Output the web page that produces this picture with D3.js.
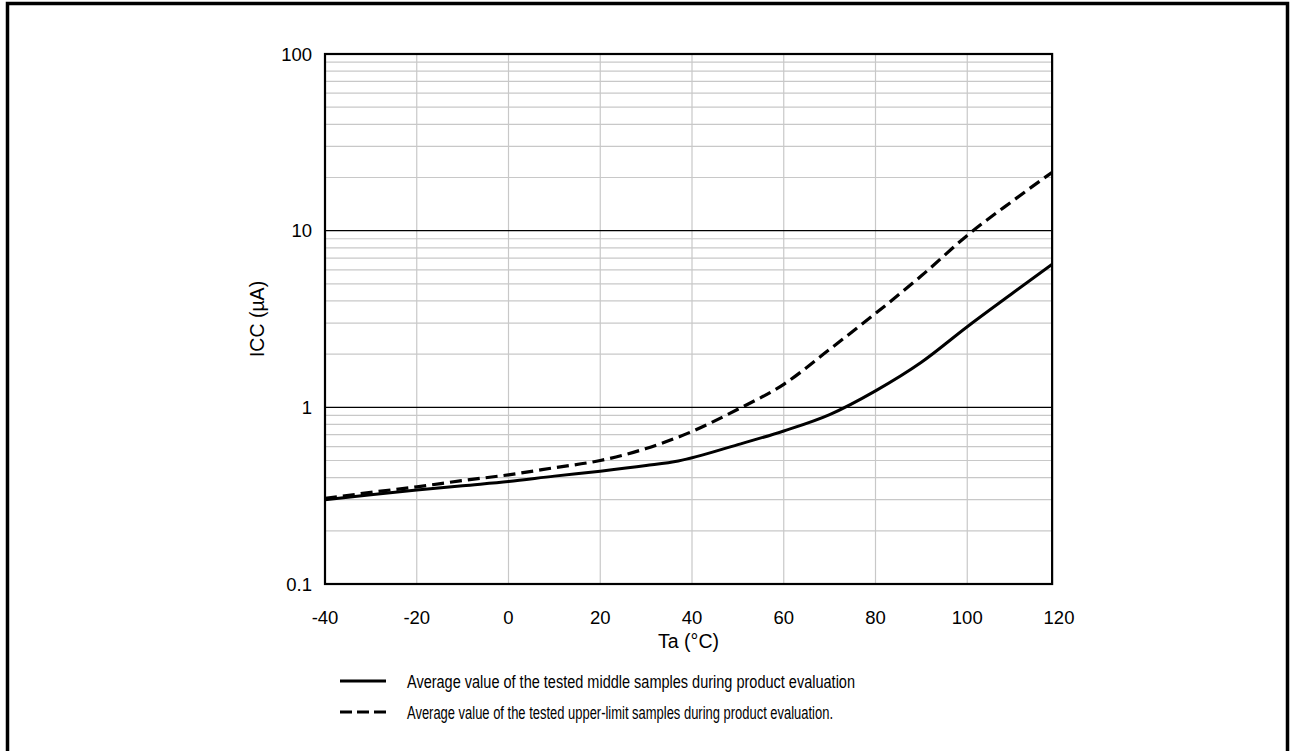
<!DOCTYPE html>
<html>
<head>
<meta charset="utf-8">
<script src="https://cdn.jsdelivr.net/npm/d3@7"></script>
<style>
  body { margin: 0; background: #fff; }
  text { font-family: "Liberation Sans", Arial, sans-serif; fill: #000; }
</style>
</head>
<body>
<script>
// temperatures (°C) and ICC values (µA)
var tempsMid = [-40, -30, -20, -10, 0, 10, 20, 30, 37, 50, 60, 70, 80, 90, 100, 110, 120];
var iccMid   = [0.30, 0.32, 0.34, 0.36, 0.38, 0.408, 0.435, 0.468, 0.497, 0.615, 0.735, 0.91, 1.24, 1.8, 2.86, 4.45, 6.9];

var tempsUpper = [-40, -30, -20, -10, 0, 10, 20, 30, 40, 50, 60, 70, 80, 90, 100, 110, 120];
var iccUpper   = [0.305, 0.33, 0.355, 0.385, 0.415, 0.455, 0.50, 0.585, 0.73, 0.975, 1.35, 2.13, 3.4, 5.55, 9.4, 14.8, 22.8];

var xTicks = [-40, -20, 0, 20, 40, 60, 80, 100, 120];
var yMajor = [0.1, 1, 10, 100];
var xEnd = 118.5; // plot frame ends just short of 120

var legendLabels = [
  "Average value of the tested middle samples during product evaluation",
  "Average value of the tested upper-limit samples during product evaluation."
];

var W = 1290, H = 751;

var svg = d3.select("body").append("svg")
    .attr("width", W)
    .attr("height", H);

// outer border
svg.append("rect")
    .attr("x", 7.5).attr("y", 3.5)
    .attr("width", 1280).attr("height", 770)
    .attr("fill", "none").attr("stroke", "#000").attr("stroke-width", 3.5);

var x = d3.scaleLinear().domain([-40, 120]).range([325, 1059]);
var y = d3.scaleLog().domain([0.1, 100]).range([584, 54]);

var pLeft = x(-40), pRight = x(xEnd), pTop = y(100), pBottom = y(0.1);

// minor horizontal gridlines
var minor = [];
[0.1, 1, 10].forEach(function(d) {
  for (var k = 2; k <= 9; k++) minor.push(d * k);
});
svg.append("g").selectAll("line").data(minor).enter().append("line")
    .attr("x1", pLeft).attr("x2", pRight)
    .attr("y1", function(d) { return y(d); })
    .attr("y2", function(d) { return y(d); })
    .attr("stroke", "#c8c8c8").attr("stroke-width", 1.2);

// vertical gridlines
svg.append("g").selectAll("line").data(xTicks.filter(function(d) { return d > -40 && d < xEnd; }))
  .enter().append("line")
    .attr("x1", function(d) { return x(d); })
    .attr("x2", function(d) { return x(d); })
    .attr("y1", pTop).attr("y2", pBottom)
    .attr("stroke", "#c8c8c8").attr("stroke-width", 1.2);

// major horizontal lines
svg.append("g").selectAll("line").data([1, 10]).enter().append("line")
    .attr("x1", pLeft).attr("x2", pRight)
    .attr("y1", function(d) { return y(d); })
    .attr("y2", function(d) { return y(d); })
    .attr("stroke", "#000").attr("stroke-width", 1.2);

// clip for curves
svg.append("clipPath").attr("id", "plotclip")
  .append("rect")
    .attr("x", pLeft).attr("y", pTop)
    .attr("width", pRight - pLeft).attr("height", pBottom - pTop);

var line = d3.line()
    .x(function(d) { return x(d[0]); })
    .y(function(d) { return y(d[1]); })
    .curve(d3.curveMonotoneX);

var midData = tempsMid.map(function(t, i) { return [t, iccMid[i]]; });
var upperData = tempsUpper.map(function(t, i) { return [t, iccUpper[i]]; });

var curves = svg.append("g").attr("clip-path", "url(#plotclip)");
curves.append("path")
    .datum(midData)
    .attr("d", line)
    .attr("fill", "none").attr("stroke", "#000").attr("stroke-width", 3);
curves.append("path")
    .datum(upperData)
    .attr("d", line)
    .attr("fill", "none").attr("stroke", "#000").attr("stroke-width", 3.2)
    .attr("stroke-dasharray", "12,6");

// plot frame
svg.append("rect")
    .attr("x", pLeft).attr("y", pTop)
    .attr("width", pRight - pLeft).attr("height", pBottom - pTop)
    .attr("fill", "none").attr("stroke", "#000").attr("stroke-width", 2.2);

// x tick labels
svg.append("g").selectAll("text").data(xTicks).enter().append("text")
    .attr("x", function(d) { return x(d); })
    .attr("y", 624)
    .attr("text-anchor", "middle")
    .attr("font-size", 18.5)
    .text(function(d) { return d; });

// y tick labels
svg.append("g").selectAll("text").data(yMajor).enter().append("text")
    .attr("x", 312)
    .attr("y", function(d) { return y(d) + 6.5; })
    .attr("text-anchor", "end")
    .attr("font-size", 18.5)
    .text(function(d) { return d; });

// axis titles
svg.append("text")
    .attr("x", (pLeft + pRight) / 2).attr("y", 648)
    .attr("text-anchor", "middle")
    .attr("font-size", 19.5)
    .text("Ta (°C)");

svg.append("text")
    .attr("transform", "translate(264," + ((pTop + pBottom) / 2) + ") rotate(-90)")
    .attr("text-anchor", "middle")
    .attr("font-size", 19.5)
    .text("ICC (µA)");

// legend
var lg = svg.append("g").selectAll("g").data(legendLabels).enter().append("g")
    .attr("transform", function(d, i) { return "translate(0," + (681 + i * 31) + ")"; });
lg.append("line")
    .attr("x1", 340).attr("x2", 386)
    .attr("stroke", "#000").attr("stroke-width", 3)
    .attr("stroke-dasharray", function(d, i) { return i ? "12,5" : null; });
lg.append("text")
    .attr("x", 407).attr("y", 6.5)
    .attr("font-size", 17.5)
    .attr("textLength", function(d, i) { return i ? 426 : 448; })
    .attr("lengthAdjust", "spacingAndGlyphs")
    .text(function(d) { return d; });
</script>
</body>
</html>
